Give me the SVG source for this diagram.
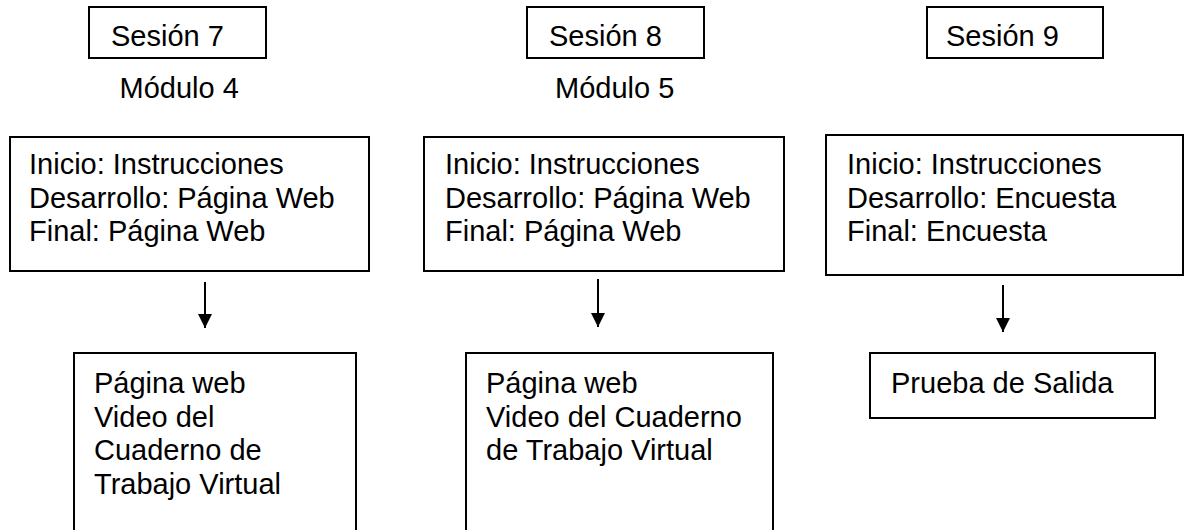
<svg xmlns="http://www.w3.org/2000/svg" width="1189" height="530" viewBox="0 0 1189 530">
<defs>
<style>
rect{fill:#fff;stroke:#000;stroke-width:2}
text{font-family:"Liberation Sans",Arial,sans-serif;font-size:29px;fill:#000}
.c line{stroke:#000;stroke-width:2}
</style>
<marker id="ah" viewBox="0 0 10 10" refX="10" refY="5" markerWidth="7" markerHeight="7" markerUnits="strokeWidth" orient="auto">
<path d="M0,0 L10,5 L0,10 Z" fill="#000"/>
</marker>
</defs>
<rect x="0" y="0" width="1189" height="530" style="stroke:none"/>
<g id="s7"><rect x="89" y="7" width="177" height="51"/><text x="111" y="46">Sesión 7</text></g>
<g id="m4"><text x="119.5" y="98">Módulo 4</text></g>
<g id="s8"><rect x="527" y="7" width="177" height="51"/><text x="549" y="46">Sesión 8</text></g>
<g id="m5"><text x="555" y="98">Módulo 5</text></g>
<g id="s9"><rect x="927" y="7" width="176" height="51"/><text x="946" y="46">Sesión 9</text></g>
<g id="b1"><rect x="10" y="137" width="359" height="134"/>
<text x="29" y="174">Inicio: Instrucciones</text><text x="29" y="207.5">Desarrollo: Página Web</text><text x="29" y="241">Final: Página Web</text></g>
<g id="b2"><rect x="424" y="137" width="360" height="134"/>
<text x="445" y="174">Inicio: Instrucciones</text><text x="445" y="207.5">Desarrollo: Página Web</text><text x="445" y="241">Final: Página Web</text></g>
<g id="b3"><rect x="826" y="135" width="357" height="140"/>
<text x="847" y="174">Inicio: Instrucciones</text><text x="847" y="207.5">Desarrollo: Encuesta</text><text x="847" y="241">Final: Encuesta</text></g>
<g id="r1"><rect x="74" y="353" width="282" height="190"/>
<text x="94" y="393">Página web</text><text x="94" y="426.5">Video del</text><text x="94" y="460">Cuaderno de</text><text x="94" y="493.5">Trabajo Virtual</text></g>
<g id="r2"><rect x="466" y="353" width="307" height="190"/>
<text x="486" y="393">Página web</text><text x="486" y="426.5">Video del Cuaderno</text><text x="486" y="460">de Trabajo Virtual</text></g>
<g id="r3"><rect x="870" y="353" width="285" height="65"/>
<text x="891" y="393">Prueba de Salida</text></g>
<g class="c" id="connectors">
<line x1="205" y1="282" x2="205" y2="328" marker-end="url(#ah)"/>
<line x1="598" y1="279" x2="598" y2="327" marker-end="url(#ah)"/>
<line x1="1003" y1="285" x2="1003" y2="332" marker-end="url(#ah)"/>
</g>
</svg>
